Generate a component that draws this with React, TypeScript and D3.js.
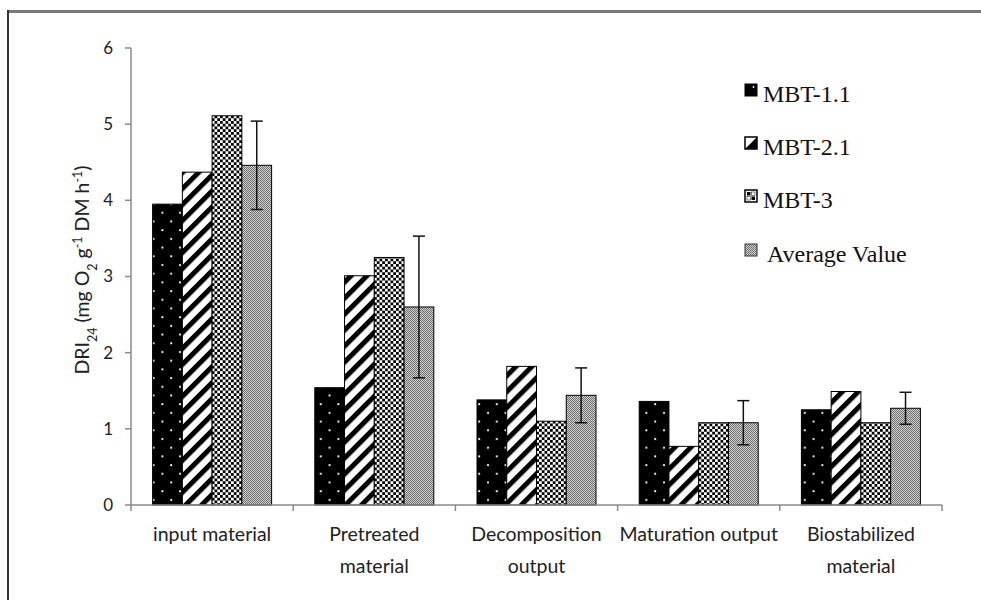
import React from "react";
import * as d3 from "d3";

const categories: string[][] = [
  ["input material"],
  ["Pretreated", "material"],
  ["Decomposition", "output"],
  ["Maturation output"],
  ["Biostabilized", "material"],
];
const seriesNames = ["MBT-1.1", "MBT-2.1", "MBT-3", "Average Value"];
const mbt11 = [3.95, 1.54, 1.38, 1.36, 1.25];
const mbt21 = [4.37, 3.01, 1.82, 0.77, 1.49];
const mbt3 = [5.11, 3.25, 1.1, 1.08, 1.08];
const average = [4.46, 2.6, 1.44, 1.08, 1.27];
const avgError = [0.58, 0.93, 0.36, 0.29, 0.21];
const yTicks = [0, 1, 2, 3, 4, 5, 6];

const W = 981;
const H = 600;
const left = 131;
const right = 942;
const top = 48;
const bottom = 505;

export default function App() {
  const series = [mbt11, mbt21, mbt3, average];
  const fills = ["url(#pDots)", "url(#pHatch)", "url(#pCheck)", "url(#pGrey)"];
  const x = d3
    .scaleBand<number>()
    .domain(d3.range(categories.length))
    .range([left, right])
    .paddingInner(0)
    .paddingOuter(0);
  const groupW = 119;
  const inner = d3
    .scaleBand<number>()
    .domain(d3.range(series.length))
    .range([0, groupW])
    .padding(0);
  const y = d3.scaleLinear().domain([0, 6]).range([bottom, top]);
  const axisColor = "#8a8a8a";
  const sans = "Lato, 'Open Sans', sans-serif";
  const serif = "'Liberation Serif', 'DejaVu Serif', serif";

  const legendY = [102, 155, 208, 262];

  return (
    <svg
      width={W}
      height={H}
      style={{ position: "absolute", left: 0, top: 0, background: "#fff" }}
    >
      <defs>
        <pattern id="pDots" width={17.6} height={17.4} patternUnits="userSpaceOnUse">
          <rect width={17.6} height={17.4} fill="#000" />
          <circle cx={4} cy={4} r={1.1} fill="#fff" />
          <circle cx={12.8} cy={12.7} r={1.1} fill="#fff" />
        </pattern>
        <pattern
          id="pHatch"
          width={11.3}
          height={11.3}
          patternUnits="userSpaceOnUse"
          patternTransform="rotate(45)"
        >
          <rect width={11.3} height={11.3} fill="#fff" />
          <rect width={5} height={11.3} fill="#000" />
        </pattern>
        <pattern id="pCheck" width={5.5} height={5.5} patternUnits="userSpaceOnUse">
          <rect width={5.5} height={5.5} fill="#fff" />
          <rect width={2.75} height={2.75} fill="#000" />
          <rect x={2.75} y={2.75} width={2.75} height={2.75} fill="#000" />
        </pattern>
        <pattern id="pGrey" width={2} height={2} patternUnits="userSpaceOnUse">
          <rect width={2} height={2} fill="#d2d2d2" />
          <rect width={1} height={1} fill="#6e6e6e" />
          <rect x={1} y={1} width={1} height={1} fill="#6e6e6e" />
        </pattern>
      </defs>

      {/* frame */}
      <line x1={8} x2={W} y1={11.5} y2={11.5} stroke="#7a7a7a" strokeWidth={3} />
      <line x1={8} x2={8} y1={10} y2={H} stroke="#333" strokeWidth={2} />

      {/* bars */}
      {categories.map((_, ci) => {
        const gx = (x(ci) as number) + (x.bandwidth() - groupW) / 2;
        return (
          <g key={ci}>
            {series.map((s, si) => (
              <rect
                key={si}
                x={gx + (inner(si) as number)}
                y={y(s[ci])}
                width={inner.bandwidth()}
                height={bottom - y(s[ci])}
                fill={fills[si]}
                stroke="#000"
                strokeWidth={1}
              />
            ))}
            {(() => {
              const cx = gx + (inner(3) as number) + inner.bandwidth() / 2;
              const y1 = y(average[ci] + avgError[ci]);
              const y2 = y(average[ci] - avgError[ci]);
              return (
                <g stroke="#111" strokeWidth={1.5}>
                  <line x1={cx} x2={cx} y1={y1} y2={y2} />
                  <line x1={cx - 6} x2={cx + 6} y1={y1} y2={y1} />
                  <line x1={cx - 6} x2={cx + 6} y1={y2} y2={y2} />
                </g>
              );
            })()}
          </g>
        );
      })}

      {/* y axis */}
      <line x1={left} x2={left} y1={top} y2={bottom} stroke={axisColor} strokeWidth={1.5} />
      {yTicks.map((t) => (
        <g key={t}>
          <line x1={left - 6} x2={left} y1={y(t)} y2={y(t)} stroke={axisColor} strokeWidth={1.5} />
          <text
            x={left - 18}
            y={y(t)}
            dy="0.35em"
            textAnchor="end"
            fontFamily={sans}
            fontSize={17}
            fill="#222"
          >
            {t}
          </text>
        </g>
      ))}

      {/* x axis */}
      <line x1={left} x2={right} y1={bottom} y2={bottom} stroke={axisColor} strokeWidth={1.5} />
      {d3.range(categories.length + 1).map((i) => {
        const tx = i < categories.length ? (x(i) as number) : right;
        return (
          <line key={i} x1={tx} x2={tx} y1={bottom} y2={bottom + 6} stroke={axisColor} strokeWidth={1.5} />
        );
      })}
      {categories.map((lines, ci) => (
        <text
          key={ci}
          x={(x(ci) as number) + x.bandwidth() / 2}
          y={541}
          textAnchor="middle"
          fontFamily={sans}
          fontSize={19.5}
          fill="#222"
        >
          {lines.map((l, li) => (
            <tspan key={li} x={(x(ci) as number) + x.bandwidth() / 2} dy={li === 0 ? 0 : 32}>
              {l}
            </tspan>
          ))}
        </text>
      ))}

      {/* y label */}
      <text
        transform="translate(89,270) rotate(-90)"
        textAnchor="middle"
        fontFamily={sans}
        fontSize={19.5}
        fill="#222"
      >
        DRI
        <tspan fontSize={12.5} baselineShift="sub">24</tspan>
        <tspan> (mg O</tspan>
        <tspan fontSize={12.5} baselineShift="sub">2</tspan>
        <tspan> g</tspan>
        <tspan fontSize={12.5} baselineShift="super">-1</tspan>
        <tspan> DM h</tspan>
        <tspan fontSize={12.5} baselineShift="super">-1</tspan>
        <tspan>)</tspan>
      </text>

      {/* legend */}
      {seriesNames.map((name, i) => {
        const ly = legendY[i];
        const sx = 745;
        const sy = ly - 18;
        const s = 12;
        return (
          <g key={name}>
            {i === 0 && (
              <g>
                <rect x={sx} y={sy} width={s} height={s} fill="#000" stroke="#000" />
                <circle cx={sx + 8.5} cy={sy + 3} r={0.9} fill="#fff" />
              </g>
            )}
            {i === 1 && (
              <g>
                <rect x={sx} y={sy} width={s} height={s} fill="#fff" stroke="#000" strokeWidth={1.5} />
                <path d={`M${sx + s},${sy} L${sx + s},${sy + s} L${sx},${sy + s} Z`} fill="#000" />
              </g>
            )}
            {i === 2 && (
              <g>
                <rect x={sx} y={sy} width={s} height={s} fill="#fff" stroke="#000" strokeWidth={1.5} />
                <rect x={sx + 2} y={sy + 2} width={3.5} height={3.5} fill="#000" />
                <rect x={sx + 6.5} y={sy + 6.5} width={3.5} height={3.5} fill="#000" />
                <rect x={sx + 6.5} y={sy + 2} width={3.5} height={3.5} fill="#fff" stroke="#000" strokeWidth={0.5} />
                <rect x={sx + 2} y={sy + 6.5} width={3.5} height={3.5} fill="#fff" stroke="#000" strokeWidth={0.5} />
              </g>
            )}
            {i === 3 && (
              <rect x={sx} y={sy} width={s} height={s} fill="url(#pGrey)" stroke="#333" />
            )}
            <text
              x={i === 3 ? 767 : 763}
              y={ly}
              fontFamily={serif}
              fontSize={24}
              fill="#111"
            >
              {name}
            </text>
          </g>
        );
      })}
    </svg>
  );
}
